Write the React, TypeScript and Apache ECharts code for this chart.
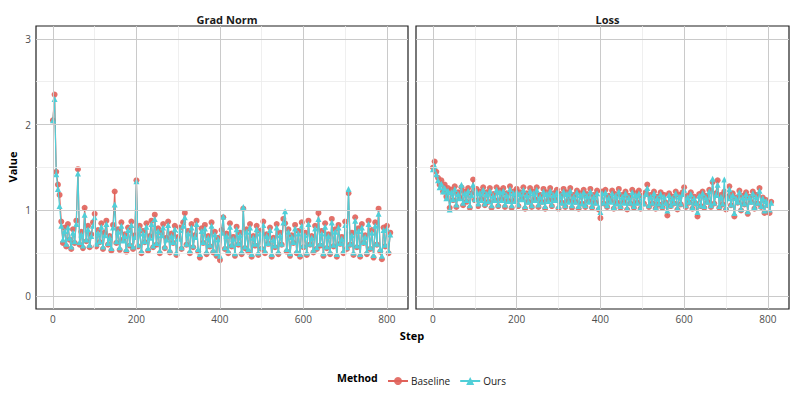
import React, { useEffect, useRef } from "react";
import * as echarts from "echarts";

const steps = Array.from({ length: 203 }, (_, i) => i * 4);

const gradBaseline = [
  2.05, 2.35, 1.45, 1.30, 1.18, 0.87, 0.62, 0.80, 0.58, 0.84,
  0.66, 0.55, 0.78, 0.62, 0.88, 1.48, 0.60, 0.75, 0.56, 1.03,
  0.64, 0.82, 0.57, 0.72, 0.86, 0.96, 0.58, 0.77, 0.63, 0.85,
  0.55, 0.74, 0.88, 0.60, 0.70, 0.53, 0.83, 1.22, 0.62, 0.78,
  0.54, 0.86, 0.66, 0.72, 0.52, 0.80, 0.59, 0.87, 0.55, 0.71,
  1.35, 0.58, 0.82, 0.50, 0.76, 0.63, 0.85, 0.53, 0.70, 0.88,
  0.57, 0.95, 0.60, 0.79, 0.50, 0.74, 0.84, 0.56, 0.68, 0.87,
  0.51, 0.73, 0.62, 0.82, 0.48, 0.69, 0.80, 0.55, 0.86, 0.97,
  0.60, 0.76, 0.50, 0.84, 0.57, 0.71, 0.88, 0.52, 0.45, 0.79,
  0.62, 0.83, 0.49, 0.70, 0.58, 0.86, 0.51, 0.75, 0.47, 0.68,
  0.42, 0.77, 0.92, 0.55, 0.73, 0.50, 0.85, 0.58, 0.69, 0.47,
  0.81, 0.60, 0.74, 0.49, 1.02, 0.56, 0.78, 0.52, 0.84, 0.46,
  0.70, 0.59, 0.82, 0.48, 0.76, 0.55, 0.87, 0.50, 0.72, 0.61,
  0.80, 0.46, 0.68, 0.57, 0.84, 0.49, 0.74, 0.60, 0.90, 0.85,
  0.52, 0.78, 0.47, 0.71, 0.62, 0.83, 0.50, 0.76, 0.46, 0.86,
  0.57, 0.74, 0.48, 0.88, 0.60, 0.70, 0.51, 0.82, 0.55, 0.97,
  0.59, 0.76, 0.47, 0.85, 0.56, 0.72, 0.49, 0.90, 0.58, 0.78,
  0.46, 0.83, 0.61, 0.69, 0.50, 0.87, 0.55, 1.20, 0.60, 0.74,
  0.48, 0.92, 0.57, 0.79, 0.46, 0.84, 0.62, 0.71, 0.49, 0.88,
  0.55, 0.77, 0.45, 0.86, 0.60, 1.02, 0.52, 0.43, 0.80, 0.58,
  0.82, 0.50, 0.74,
];

const gradOurs = [
  2.05, 2.30, 1.42, 1.25, 1.05, 0.82, 0.66, 0.76, 0.61, 0.80,
  0.68, 0.58, 0.74, 0.64, 0.84, 1.43, 0.63, 0.72, 0.59, 0.95,
  0.66, 0.78, 0.60, 0.70, 0.82, 0.92, 0.61, 0.74, 0.64, 0.81,
  0.58, 0.71, 0.84, 0.62, 0.68, 0.56, 0.80, 1.07, 0.64, 0.75,
  0.57, 0.82, 0.65, 0.70, 0.55, 0.77, 0.61, 0.83, 0.58, 0.69,
  1.34, 0.60, 0.79, 0.53, 0.73, 0.64, 0.81, 0.56, 0.68, 0.84,
  0.59, 0.90, 0.62, 0.76, 0.53, 0.71, 0.80, 0.58, 0.66, 0.83,
  0.54, 0.70, 0.63, 0.78, 0.51, 0.67, 0.77, 0.57, 0.82, 0.92,
  0.61, 0.73, 0.53, 0.80, 0.59, 0.69, 0.84, 0.55, 0.49, 0.76,
  0.63, 0.79, 0.52, 0.68, 0.60, 0.82, 0.54, 0.72, 0.50, 0.66,
  0.47, 0.74, 0.93, 0.57, 0.70, 0.53, 0.81, 0.60, 0.67, 0.50,
  0.78, 0.62, 0.71, 0.52, 1.04, 0.58, 0.75, 0.55, 0.80, 0.49,
  0.68, 0.61, 0.78, 0.51, 0.73, 0.57, 0.83, 0.53, 0.70, 0.62,
  0.77, 0.49, 0.66, 0.59, 0.80, 0.52, 0.71, 0.61, 0.86, 0.99,
  0.55, 0.75, 0.50, 0.69, 0.63, 0.79, 0.53, 0.73, 0.49, 0.82,
  0.59, 0.71, 0.51, 0.84, 0.61, 0.68, 0.54, 0.79, 0.57, 0.90,
  0.61, 0.73, 0.50, 0.81, 0.58, 0.70, 0.52, 0.86, 0.60, 0.75,
  0.49, 0.80, 0.62, 0.67, 0.53, 0.83, 0.57, 1.25, 0.61, 0.71,
  0.51, 0.88, 0.59, 0.76, 0.49, 0.80, 0.63, 0.69, 0.52, 0.84,
  0.57, 0.74, 0.48, 0.82, 0.61, 0.96, 0.55, 0.47, 0.77, 0.60,
  0.79, 0.53, 0.72,
];

const lossBaseline = [
  1.50, 1.57, 1.45, 1.38, 1.30, 1.35, 1.22, 1.30, 1.16, 1.26,
  1.03, 1.24, 1.12, 1.28, 1.04, 1.21, 1.15, 1.27, 1.06, 1.22,
  1.10, 1.26, 1.03, 1.20, 1.36, 1.12, 1.25, 1.05, 1.22, 1.13,
  1.27, 1.06, 1.21, 1.10, 1.26, 1.03, 1.19, 1.12, 1.27, 1.05,
  1.23, 1.13, 1.26, 1.04, 1.20, 1.11, 1.28, 1.03, 1.22, 1.12,
  1.25, 1.05, 1.21, 1.14, 1.27, 1.02, 1.20, 1.10, 1.26, 1.04,
  1.22, 1.13, 1.27, 1.04, 1.18, 1.10, 1.25, 1.02, 1.21, 1.12,
  1.26, 1.05, 1.20, 1.13, 1.24, 1.02, 1.19, 1.09, 1.25, 1.04,
  1.21, 1.11, 1.26, 1.03, 1.18, 1.10, 1.23, 1.02, 1.20, 1.08,
  1.24, 1.04, 1.19, 1.11, 1.25, 1.03, 1.18, 1.09, 1.23, 1.01,
  0.91, 1.22, 1.08, 1.24, 1.04, 1.17, 1.11, 1.23, 1.02, 1.19,
  1.09, 1.25, 1.03, 1.18, 1.10, 1.22, 1.01, 1.17, 1.08, 1.24,
  1.03, 1.20, 1.09, 1.23, 1.02, 1.17, 1.08, 1.21, 1.30, 1.04,
  1.18, 1.08, 1.22, 1.02, 1.16, 1.07, 1.21, 1.03, 1.18, 1.09,
  0.94, 1.20, 1.05, 1.16, 1.08, 1.22, 1.01, 1.18, 1.07, 1.21,
  1.27, 1.04, 1.17, 1.09, 1.21, 1.02, 1.16, 1.08, 0.93, 1.19,
  1.05, 1.22, 1.03, 1.17, 1.10, 1.24, 1.04, 1.33, 1.08, 1.20,
  1.35, 1.03, 1.18, 1.07, 1.22, 1.01, 1.16, 1.28, 1.06, 1.20,
  0.93, 1.15, 1.09, 1.23, 1.00, 1.17, 1.07, 1.21, 0.96, 1.16,
  1.10, 1.22, 1.02, 1.18, 1.08, 1.26, 1.04, 1.15, 0.97, 1.12,
  1.06, 0.97, 1.10,
];

const lossOurs = [
  1.48, 1.52, 1.42, 1.35, 1.27, 1.31, 1.22, 1.26, 1.14, 1.23,
  1.01, 1.21, 1.13, 1.25, 1.07, 1.19, 1.14, 1.30, 1.09, 1.20,
  1.12, 1.23, 1.06, 1.18, 1.30, 1.13, 1.22, 1.08, 1.20, 1.12,
  1.24, 1.08, 1.19, 1.11, 1.23, 1.06, 1.17, 1.12, 1.24, 1.07,
  1.21, 1.12, 1.23, 1.07, 1.18, 1.11, 1.25, 1.06, 1.20, 1.11,
  1.22, 1.07, 1.19, 1.13, 1.24, 1.05, 1.18, 1.10, 1.23, 1.06,
  1.20, 1.12, 1.24, 1.07, 1.16, 1.10, 1.22, 1.05, 1.19, 1.11,
  1.23, 1.07, 1.18, 1.12, 1.21, 1.05, 1.17, 1.09, 1.22, 1.06,
  1.19, 1.10, 1.23, 1.06, 1.16, 1.10, 1.21, 1.05, 1.18, 1.08,
  1.21, 1.06, 1.17, 1.10, 1.22, 1.05, 1.16, 1.09, 1.20, 1.04,
  0.98, 1.20, 1.09, 1.21, 1.06, 1.15, 1.10, 1.20, 1.04, 1.17,
  1.08, 1.22, 1.05, 1.16, 1.09, 1.20, 1.03, 1.15, 1.09, 1.21,
  1.05, 1.18, 1.09, 1.20, 1.04, 1.15, 1.08, 1.19, 1.26, 1.06,
  1.16, 1.09, 1.20, 1.04, 1.14, 1.08, 1.19, 1.05, 1.16, 1.09,
  1.00, 1.18, 1.06, 1.14, 1.09, 1.20, 1.03, 1.16, 1.08, 1.19,
  1.24, 1.06, 1.15, 1.10, 1.19, 1.04, 1.14, 1.09, 0.98, 1.17,
  1.06, 1.20, 1.05, 1.15, 1.10, 1.22, 1.06, 1.37, 1.09, 1.18,
  1.30, 1.05, 1.16, 1.08, 1.36, 1.03, 1.14, 1.25, 1.07, 1.18,
  0.97, 1.14, 1.10, 1.21, 1.02, 1.15, 1.08, 1.19, 0.99, 1.15,
  1.10, 1.20, 1.04, 1.16, 1.09, 1.23, 1.05, 1.14, 1.00, 1.11,
  1.07, 1.01, 1.09,
];

const facetTitles = ["Grad Norm", "Loss"];
const methods = ["Baseline", "Ours"];
const xTicks = [0, 200, 400, 600, 800];
const xMinor = [100, 300, 500, 700];
const yTicks = [0, 1, 2, 3];
const yMinor = [0.5, 1.5, 2.5];

const FONT = '"Open Sans", "Noto Sans", sans-serif';
const RED = "#E0625A";
const CYAN = "#50CFD8";

export default function App() {
  const ref = useRef<HTMLDivElement>(null);

  useEffect(() => {
    if (!ref.current) return;
    document.body.style.margin = "0";
    const chart = echarts.init(ref.current, undefined, { renderer: "svg" });

    const grids = [
      { left: 36, top: 26, width: 372, height: 283 },
      { left: 416, top: 26, width: 373, height: 283 },
    ];
    const panels = [
      [gradBaseline, gradOurs],
      [lossBaseline, lossOurs],
    ];

    const major = { color: "#cacaca", width: 1, type: "solid" };
    const minor = { color: "#ebebeb", width: 0.8, type: "solid" };

    const series: any[] = [];
    panels.forEach((vals, i) => {
      series.push({
        type: "line",
        xAxisIndex: i,
        yAxisIndex: i,
        data: [],
        silent: true,
        z: 1,
        markLine: {
          silent: true,
          symbol: ["none", "none"],
          label: { show: false },
          emphasis: { disabled: true },
          data: [
            ...xMinor.map((v) => ({ xAxis: v, lineStyle: minor })),
            ...yMinor.map((v) => ({ yAxis: v, lineStyle: minor })),
            ...xTicks.map((v) => ({ xAxis: v, lineStyle: major })),
            ...yTicks.map((v) => ({ yAxis: v, lineStyle: major })),
          ],
        },
      });
      series.push({
        name: methods[0],
        type: "line",
        xAxisIndex: i,
        yAxisIndex: i,
        data: steps.map((s, k) => [s, vals[0][k]]),
        symbol: "circle",
        symbolSize: 6,
        lineStyle: { width: 1.2, color: RED },
        itemStyle: { color: RED, opacity: 0.9 },
        z: 3,
      });
      series.push({
        name: methods[1],
        type: "line",
        xAxisIndex: i,
        yAxisIndex: i,
        data: steps.map((s, k) => [s, vals[1][k]]),
        symbol: "triangle",
        symbolSize: 6,
        lineStyle: { width: 1.2, color: CYAN },
        itemStyle: { color: CYAN },
        z: 4,
      });
    });

    const option: any = {
      animation: false,
      backgroundColor: "#ffffff",
      textStyle: { fontFamily: FONT },
      title: facetTitles.map((t, i) => ({
        text: t,
        left: grids[i].left + grids[i].width / 2,
        top: 9,
        textAlign: "center",
        textStyle: { fontSize: 11, fontWeight: "bold", color: "#1a1a1a", fontFamily: FONT },
      })),
      grid: grids.map((g) => ({
        ...g,
        show: true,
        borderColor: "#1f1f1f",
        borderWidth: 1.2,
        backgroundColor: "#ffffff",
        containLabel: false,
      })),
      xAxis: grids.map((_, i) => ({
        type: "value",
        gridIndex: i,
        min: -40.5,
        max: 850.5,
        splitLine: { show: false },
        axisLine: { show: false },
        axisTick: { show: true, length: 3, customValues: xTicks, lineStyle: { color: "#333333", width: 1 } },
        axisLabel: { customValues: xTicks, color: "#4d4d4d", fontSize: 10, margin: 5, fontFamily: FONT },
      })),
      yAxis: grids.map((_, i) => ({
        type: "value",
        gridIndex: i,
        min: -0.15,
        max: 3.15,
        splitLine: { show: false },
        axisLine: { show: false },
        axisTick: { show: i === 0, length: 3, customValues: yTicks, lineStyle: { color: "#333333", width: 1 } },
        axisLabel: { show: i === 0, customValues: yTicks, color: "#4d4d4d", fontSize: 10, margin: 5, fontFamily: FONT },
      })),
      legend: {
        data: methods,
        left: 382,
        top: 371,
        itemWidth: 20,
        itemHeight: 10,
        itemGap: 9,
        textStyle: { fontSize: 10, color: "#1a1a1a", fontFamily: FONT, padding: [0, 0, 0, -2] },
      },
      graphic: [
        {
          type: "text",
          x: 412,
          y: 335,
          style: { text: "Step", font: `bold 11px ${FONT}`, fill: "#000", textAlign: "center", textVerticalAlign: "middle", align: "center", verticalAlign: "middle" },
        },
        {
          type: "text",
          x: 12,
          y: 167,
          rotation: Math.PI / 2,
          style: { text: "Value", font: `bold 11px ${FONT}`, fill: "#000", textAlign: "center", textVerticalAlign: "middle", align: "center", verticalAlign: "middle" },
        },
        {
          type: "text",
          x: 337,
          y: 378,
          style: { text: "Method", font: `bold 10.5px ${FONT}`, fill: "#000", textAlign: "left", textVerticalAlign: "middle", align: "left", verticalAlign: "middle" },
        },
      ],
      tooltip: { show: false },
      series,
    };

    chart.setOption(option);
    return () => chart.dispose();
  }, []);

  return <div ref={ref} style={{ width: 797, height: 399, background: "#fff" }} />;
}
